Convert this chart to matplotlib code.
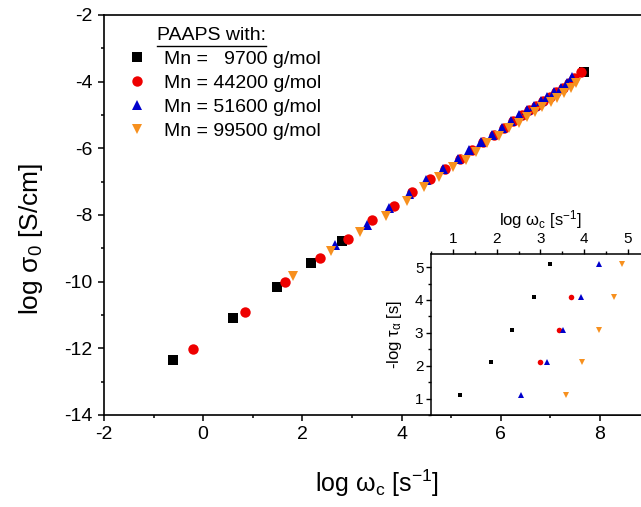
import numpy as np
import matplotlib
matplotlib.use('Agg')
import matplotlib.pyplot as plt
from matplotlib.lines import Line2D

plt.rcParams['font.family'] = ['Liberation Sans', 'DejaVu Sans']
plt.rcParams['mathtext.fontset'] = 'custom'
plt.rcParams['mathtext.rm'] = 'Liberation Sans'
plt.rcParams['mathtext.it'] = 'Liberation Sans'
plt.rcParams['mathtext.default'] = 'regular'
plt.rcParams['axes.unicode_minus'] = False

# main plot: log omega_c vs log sigma_0
x_9700 = [-0.61, 0.60, 1.49, 2.18, 2.80, 7.68]
y_9700 = [-12.34, -11.09, -10.16, -9.43, -8.78, -3.70]

x_44200 = [-0.20, 0.84, 1.66, 2.35, 2.93, 3.41, 3.84, 4.22, 4.58, 4.88, 5.18, 5.42,
           5.65, 5.87, 6.06, 6.25, 6.42, 6.58, 6.72, 6.86, 6.99, 7.12, 7.26, 7.38,
           7.48, 7.61]
y_44200 = [-12.01, -10.91, -10.02, -9.29, -8.71, -8.16, -7.73, -7.32, -6.93, -6.62,
           -6.32, -6.05, -5.80, -5.60, -5.40, -5.18, -5.00, -4.85, -4.72, -4.57,
           -4.45, -4.32, -4.20, -4.05, -3.88, -3.72]

x_51600 = [2.65, 3.30, 3.75, 4.16, 4.49, 4.83, 5.13, 5.36, 5.60, 5.82, 6.02, 6.20,
           6.37, 6.54, 6.67, 6.81, 6.94, 7.07, 7.21, 7.34, 7.44]
y_51600 = [-8.89, -8.29, -7.80, -7.36, -6.95, -6.63, -6.33, -6.05, -5.80, -5.60,
           -5.40, -5.18, -5.00, -4.85, -4.72, -4.57, -4.45, -4.32, -4.20, -4.05, -3.85]

x_99500 = [1.81, 2.57, 3.16, 3.69, 4.12, 4.46, 4.76, 5.03, 5.30, 5.50, 5.73, 5.97,
           6.17, 6.37, 6.54, 6.70, 6.84, 7.01, 7.14, 7.28, 7.41, 7.51]
y_99500 = [-9.84, -9.09, -8.51, -8.03, -7.59, -7.16, -6.86, -6.57, -6.35, -6.10,
           -5.85, -5.63, -5.40, -5.23, -5.05, -4.90, -4.75, -4.62, -4.48, -4.33,
           -4.20, -4.05]

# inset: -log tau_alpha vs log omega_c
in_y = [1.1, 2.1, 3.1, 4.1, 5.1]
in_x_9700 = [1.16, 1.88, 2.35, 2.85, 3.21]
in_y_44200 = [2.1, 3.1, 4.1]
in_x_44200 = [2.98, 3.43, 3.71]
in_x_51600 = [2.55, 3.15, 3.51, 3.93, 4.35]
in_x_99500 = [3.58, 3.95, 4.33, 4.68, 4.87]

labels = ['Mn =   9700 g/mol', 'Mn = 44200 g/mol', 'Mn = 51600 g/mol', 'Mn = 99500 g/mol']
c_black, c_red, c_blue, c_orange = 'black', '#ee0000', '#0000cc', '#f7901e'

fig = plt.figure(figsize=(6.41, 5.07), dpi=100)
ax = fig.add_axes([0.1622, 0.1815, 0.851, 0.789])

ax.plot(x_9700, y_9700, 's', color=c_black, ms=6.5, mew=0, label=labels[0])
ax.plot(x_44200, y_44200, 'o', color=c_red, ms=7.5, mew=0, label=labels[1])
ax.plot(x_51600, y_51600, '^', color=c_blue, ms=7.5, mew=0, label=labels[2])
ax.plot(x_99500, y_99500, 'v', color=c_orange, ms=7.5, mew=0, label=labels[3])

ax.set_xlim(-2, 9)
ax.set_ylim(-14, -2)
ax.set_xticks([-2, 0, 2, 4, 6, 8])
ax.set_xticks(np.arange(-1, 9, 2), minor=True)
ax.set_yticks(np.arange(-14, -1, 2))
ax.set_yticks(np.arange(-13, -2, 2), minor=True)
ax.tick_params(which='both', direction='out', width=1.1, labelsize=14, top=False, right=False)
ax.tick_params(which='major', length=4.5)
ax.tick_params(which='minor', length=2.5)
for s in ax.spines.values():
    s.set_linewidth(1.2)
ax.set_xlabel(r'log $\omega_c$ [s$^{-1}$]', fontsize=18, labelpad=18)
ax.set_ylabel(r'log $\sigma_0$ [S/cm]', fontsize=19)
ax.yaxis.set_label_coords(-0.108, 0.44)

leg = ax.legend(loc='upper left', bbox_to_anchor=(0.044, 0.911), frameon=False,
                fontsize=14, borderaxespad=0, borderpad=0, handlelength=0.9,
                handletextpad=0.95, labelspacing=0.33)
title = ax.text(0.097, 0.9375, 'PAAPS with:', transform=ax.transAxes, fontsize=14,
                va='baseline', ha='left')

# inset
axi = fig.add_axes([0.6724, 0.1815, 0.3413, 0.3176])
axi.plot(in_x_9700, in_y, 's', color=c_black, ms=3.5, mew=0)
axi.plot(in_x_44200, in_y_44200, 'o', color=c_red, ms=4, mew=0)
axi.plot(in_x_51600, in_y, '^', color=c_blue, ms=4.5, mew=0)
axi.plot(in_x_99500, in_y, 'v', color=c_orange, ms=4.5, mew=0)
axi.set_xlim(0.5, 5.5)
axi.set_ylim(0.5, 5.4)
axi.set_xticks([1, 2, 3, 4, 5])
axi.set_xticks(np.arange(0.5, 5.6, 0.5), minor=True)
axi.set_yticks([1, 2, 3, 4, 5])
axi.set_yticks(np.arange(0.5, 5.5, 0.5), minor=True)
axi.xaxis.tick_top()
axi.xaxis.set_label_position('top')
axi.tick_params(which='both', direction='out', width=1.0, labelsize=11,
                bottom=False, right=False)
axi.tick_params(which='major', length=3.5, pad=2)
axi.tick_params(which='minor', length=2)
for s in axi.spines.values():
    s.set_linewidth(1.1)
axi.set_xlabel(r'log $\omega_c$ [s$^{-1}$]', fontsize=12, labelpad=5)
axi.set_ylabel(r'-log $\tau_\alpha$ [s]', fontsize=12, labelpad=8)

# underline the legend heading
fig.canvas.draw()
bb = title.get_window_extent().transformed(fig.transFigure.inverted())
fig.add_artist(Line2D([bb.x0, bb.x1], [bb.y0 - 0.004, bb.y0 - 0.004],
                      transform=fig.transFigure, color='black', lw=1.0))

fig.savefig('out.png', dpi=100)
